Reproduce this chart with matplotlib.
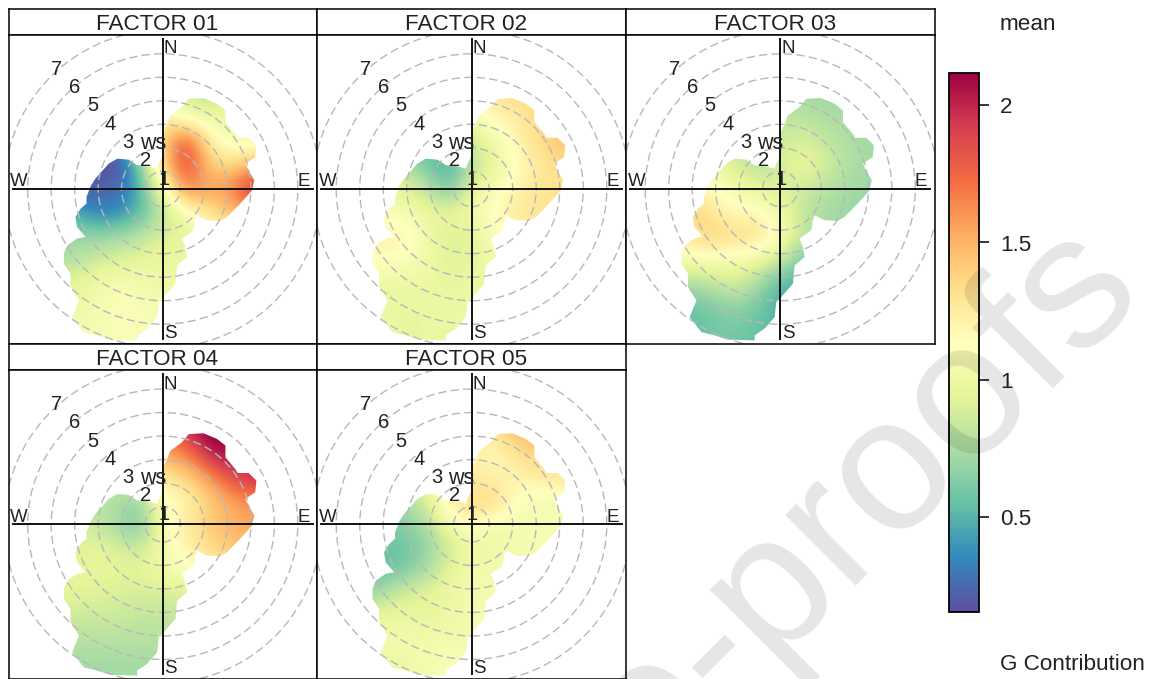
"""
polar plots of the five factors, G contribution by wind speed and direction
"""
import matplotlib
matplotlib.use('Agg')
import matplotlib.pyplot as plt
import numpy as np
from matplotlib.cm import ScalarMappable
from matplotlib.colors import Normalize
from matplotlib.patches import Circle, Polygon

plt.rcParams['font.family'] = ['Liberation Sans', 'DejaVu Sans']

W, H = 1155, 679
n = np.nan

titles = ['FACTOR 01', 'FACTOR 02', 'FACTOR 03', 'FACTOR 04', 'FACTOR 05']
ws_labels = [1, 2, 3, 4, 5, 6, 7]
compass = ['N', 'S', 'W', 'E']
cbar_ticks = [0.5, 1, 1.5, 2]
cbar_labels = ['0.5', '1', '1.5', '2']
vmin, vmax = 0.154, 2.117

# values on a 1 unit grid, columns east -4..4, rows north 4..-6
factor_01 = [
    [n, n, n, n, n, 0.85, 0.80, n, n],
    [n, n, n, n, n, 1.05, 1.00, n, n],
    [n, n, n, n, 1.35, 1.95, 1.20, 1.05, 1.00],
    [n, n, 0.10, 0.55, 1.40, 1.90, 1.40, 1.35, 1.60],
    [n, 0.20, 0.25, 0.45, 1.05, 1.70, 1.55, 1.70, 2.00],
    [n, 0.35, 0.33, 0.50, 0.80, 1.05, 1.30, 1.40, n],
    [0.70, 0.68, 0.72, 0.80, 0.90, 0.95, n, n, n],
    [0.75, 0.85, 0.90, 0.95, 1.00, 1.00, n, n, n],
    [0.95, 1.00, 1.10, 1.05, 1.00, 1.00, n, n, n],
    [1.00, 1.05, 1.10, 1.10, 1.05, n, n, n, n],
    [1.05, 1.05, 1.10, 1.10, 1.05, n, n, n, n],
]
factor_02 = [
    [n, n, n, n, n, 1.30, 1.35, n, n],
    [n, n, n, n, n, 1.15, 1.25, 1.40, n],
    [n, n, n, n, 0.85, 1.05, 1.20, 1.35, 1.45],
    [n, n, 0.60, 0.42, 0.80, 0.95, 1.15, 1.30, 1.35],
    [n, 0.95, 0.85, 0.55, 0.95, 1.10, 1.20, 1.30, 1.30],
    [1.10, 1.05, 1.00, 0.95, 1.05, 1.15, 1.30, 1.30, n],
    [1.20, 1.25, 1.05, 0.90, 0.92, 1.10, n, n, n],
    [1.15, 1.10, 1.05, 0.90, 0.95, 1.05, n, n, n],
    [1.00, 1.00, 1.00, 0.97, 1.00, 1.00, n, n, n],
    [1.00, 0.98, 0.98, 1.00, 1.00, n, n, n, n],
    [0.98, 0.98, 0.98, 1.00, 1.00, n, n, n, n],
]
factor_03 = [
    [n, n, n, n, n, 0.72, 0.72, n, n],
    [n, n, n, n, n, 0.80, 0.74, n, n],
    [n, n, n, n, 0.85, 0.92, 0.82, 0.75, 0.72],
    [n, n, 0.90, 0.75, 0.90, 1.00, 0.88, 0.75, 0.72],
    [n, 1.15, 1.05, 0.95, 0.90, 0.85, 0.78, 0.72, 0.70],
    [1.40, 1.30, 1.15, 1.20, 1.00, 0.82, 0.72, 0.70, n],
    [1.30, 1.40, 1.35, 1.35, 1.10, 0.80, n, n, n],
    [1.05, 1.10, 1.05, 1.00, 0.85, 0.60, n, n, n],
    [0.75, 0.80, 0.90, 0.75, 0.50, 0.45, n, n, n],
    [0.55, 0.60, 0.68, 0.60, 0.45, n, n, n, n],
    [0.55, 0.58, 0.60, 0.55, 0.50, n, n, n, n],
]
factor_04 = [
    [n, n, n, n, n, 1.95, 2.20, n, n],
    [n, n, n, n, n, 1.65, 2.05, 2.10, n],
    [n, n, n, n, 1.30, 1.35, 1.60, 1.90, 2.00],
    [n, n, 0.80, 0.68, 1.10, 1.20, 1.40, 1.55, 1.65],
    [n, 0.85, 0.72, 0.55, 1.10, 1.25, 1.42, 1.52, 1.55],
    [0.90, 0.95, 0.92, 0.82, 1.05, 1.20, 1.35, 1.42, n],
    [0.95, 0.97, 0.95, 0.95, 1.02, 1.10, n, n, n],
    [0.95, 0.92, 0.90, 0.88, 0.88, 0.90, n, n, n],
    [0.85, 0.85, 0.85, 0.82, 0.82, 0.82, n, n, n],
    [0.78, 0.78, 0.78, 0.78, 0.78, n, n, n, n],
    [0.72, 0.72, 0.72, 0.72, 0.72, n, n, n, n],
]
factor_05 = [
    [n, n, n, n, n, 1.30, 1.55, n, n],
    [n, n, n, n, n, 1.15, 1.30, 1.45, n],
    [n, n, n, n, 1.25, 1.20, 1.20, 1.25, 1.30],
    [n, n, 0.85, 1.25, 1.38, 1.38, 1.10, 1.05, 1.10],
    [n, 0.65, 0.72, 1.05, 1.15, 1.05, 1.05, 1.05, 1.10],
    [0.55, 0.55, 0.65, 0.85, 1.00, 1.00, 1.05, 1.10, n],
    [0.55, 0.60, 0.72, 0.95, 1.05, 1.05, n, n, n],
    [0.72, 0.90, 0.95, 1.00, 1.05, 1.05, n, n, n],
    [1.00, 1.00, 0.95, 1.00, 1.05, 1.10, n, n, n],
    [1.05, 1.05, 1.05, 1.05, 1.05, n, n, n, n],
    [1.00, 1.00, 1.05, 1.10, 1.10, n, n, n, n],
]
factors = [factor_01, factor_02, factor_03, factor_04, factor_05]

# edge of the wind speed / direction cover, east and north parts
cover_east = [0.00, 0.33, 0.82, 1.11, 1.74, 2.31, 2.67, 2.67, 3.09, 3.19, 3.66, 3.99,
              3.94, 3.52, 3.66, 3.90, 3.80, 3.30, 2.74, 2.45, 1.89, 1.46, 1.39, 1.32,
              0.82, 0.96, 1.04, 0.61, 0.54, 0.04, -0.17, -0.24, -0.67, -1.09, -1.09,
              -2.23, -2.79, -3.36, -3.86, -3.57, -3.93, -3.93, -4.21, -4.21, -4.07,
              -3.65, -3.29, -3.65, -3.72, -3.50, -3.25, -3.25, -3.05, -2.87, -2.30,
              -1.94, -1.45, -1.09, -0.78, -0.52, -0.24, -0.17, 0.00]
cover_north = [2.35, 3.13, 3.49, 3.84, 3.87, 3.63, 3.35, 2.85, 2.35, 2.18, 2.18, 1.86,
               1.36, 1.08, 0.79, 0.37, -0.06, -0.62, -1.19, -1.36, -1.33, -1.12, -1.33,
               -1.76, -2.11, -2.47, -2.89, -3.25, -4.03, -4.60, -4.81, -5.45, -5.94,
               -6.23, -6.44, -6.41, -6.23, -6.09, -5.45, -4.74, -4.17, -3.60, -3.18,
               -2.75, -2.40, -2.11, -2.04, -1.62, -1.19, -0.84, -0.62, -0.34, 0.16,
               0.44, 1.08, 1.29, 1.25, 1.01, 1.01, 0.94, 0.87, 1.08, 1.43]


def fill_gaps(values):
    # cells outside the cover take the mean of their neighbours, for smooth edges
    z = np.array(values, dtype=float)
    while np.isnan(z).any():
        pad = np.pad(z, 1, constant_values=np.nan)
        stack = [pad[1 + i:pad.shape[0] - 1 + i, 1 + j:pad.shape[1] - 1 + j]
                 for i in (-1, 0, 1) for j in (-1, 0, 1) if i or j]
        stack = np.array(stack)
        count = (~np.isnan(stack)).sum(axis=0)
        mean = np.nansum(stack, axis=0) / np.where(count, count, 1)
        z = np.where(np.isnan(z) & (count > 0), mean, z)
    return z


def px_axes(left, top, right, bottom, **kw):
    ax = fig.add_axes([left / W, 1 - bottom / H, (right - left) / W, (bottom - top) / H], **kw)
    for spine in ax.spines.values():
        spine.set_linewidth(1.1)
    return ax


fig = plt.figure(figsize=(W / 100, H / 100), dpi=100)

lefts = [8.5, 317, 626]
rights = [317, 626, 934.5]
rows = [(8.5, 34.5, 343.5), (343.5, 370, 678.5)]
unit = 23.5  # pixels for one ws step
half = 154.4 / unit

for i, (title, values) in enumerate(zip(titles, factors)):
    col, row = i % 3, i // 3
    strip_top, top, bottom = rows[row]

    strip = px_axes(lefts[col], strip_top, rights[col], top)
    strip.set_xticks([])
    strip.set_yticks([])
    strip.text(0.483, 0.38, title, transform=strip.transAxes, ha='center', va='center', fontsize=16.2,
               color='#222222')

    ax = px_axes(lefts[col], top, rights[col], bottom)
    ax.set_xticks([])
    ax.set_yticks([])

    im = ax.imshow(fill_gaps(values), extent=(-4.5, 4.5, -6.5, 4.5), origin='upper', cmap='Spectral_r',
                   vmin=vmin, vmax=vmax, interpolation='bicubic', aspect='auto', zorder=1)
    ax.set_xlim(-half, half)
    ax.set_ylim(-(bottom - top) / 2 / unit, (bottom - top) / 2 / unit)
    cover = Polygon(np.column_stack([cover_east, cover_north]), closed=True, transform=ax.transData)
    im.set_clip_path(cover)

    for ws in ws_labels:
        ax.add_patch(Circle((0, 0), ws - 0.247, fill=False, edgecolor='#b8b8b8', linewidth=1.0,
                            linestyle=(0, (6, 3)), zorder=2))
        ax.text(-0.757 * (ws - 1) + 0.04, 0.425 + 0.779 * (ws - 1), str(ws), ha='center', va='center',
                fontsize=14.5, color='#222222', zorder=5)
    ax.text(-0.42, 1.93, 'ws', ha='center', va='center', fontsize=15.5, color='#222222', zorder=5)

    ax.plot([-6.38, 6.38], [0, 0], color='#111111', linewidth=1.4, zorder=3)
    ax.plot([0, 0], [-6.38, 6.38], color='#111111', linewidth=1.4, zorder=3)
    spots = {'N': (0.33, 5.96), 'S': (0.33, -6.15), 'W': (-6.13, 0.3), 'E': (6.0, 0.3)}
    for name in compass:
        ax.text(spots[name][0], spots[name][1], name, ha='center', va='center', fontsize=13.5,
                color='#222222', zorder=5)

cax = px_axes(948.5, 73, 979, 612)
cb = fig.colorbar(ScalarMappable(Normalize(vmin, vmax), 'Spectral_r'), cax=cax, ticks=cbar_ticks)
cb.ax.set_yticklabels([])
cb.ax.tick_params(length=7, width=1.1)
cb.outline.set_linewidth(1.3)
for tick, label in zip(cbar_ticks, cbar_labels):
    cax.annotate(label, (1, tick), xycoords=cax.get_yaxis_transform(), xytext=(15, -2),
                 textcoords='offset points', va='center', ha='left', fontsize=16.2, color='#222222')

fig.text(1000 / W, 1 - 24.5 / H, 'mean', ha='left', va='center', fontsize=16.2, color='#222222')
fig.text(1000 / W, 1 - 665 / H, 'G Contribution', ha='left', va='center', fontsize=16.2, color='#222222')

# watermark over everything
fig.text(1146 / W, 1 - 295 / H, 'Journal Pre-proofs', rotation=45, rotation_mode='anchor', ha='right',
         va='baseline', fontsize=137, color='black', alpha=0.1, zorder=20)

fig.savefig('out.png', dpi=100)
